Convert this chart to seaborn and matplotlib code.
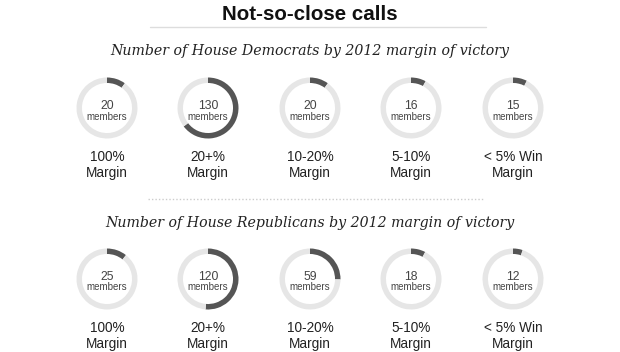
import matplotlib
matplotlib.use("Agg")
import matplotlib.pyplot as plt
import seaborn as sns
from matplotlib.lines import Line2D

sns.set_theme(style="white")
plt.rcParams["font.family"] = ["Liberation Sans", "DejaVu Sans"]

# data
margins = ["100%\nMargin", "20+%\nMargin", "10-20%\nMargin", "5-10%\nMargin", "< 5% Win\nMargin"]
dem_members = [20, 130, 20, 16, 15]
rep_members = [25, 120, 59, 18, 12]

W, H = 620, 352
RING = "#e6e6e6"
DARK = "#555555"

fig = plt.figure(figsize=(W / 100, H / 100), dpi=100)
fig.patch.set_facecolor("white")


def fx(px):
    return px / W


def fy(py):
    return 1 - py / H


fig.text(fx(310), fy(14), "Not-so-close calls", ha="center", va="center",
         fontsize=14.8, fontweight="bold", color="#111111")
fig.add_artist(Line2D([fx(150), fx(486)], [fy(27), fy(27)], color="#dddddd", lw=1))
fig.add_artist(Line2D([fx(148), fx(484)], [fy(199), fy(199)], color="#cccccc",
                      lw=1, linestyle=(0, (1, 1.5))))

centers_x = [107, 208, 310, 411, 513]
r = 30.5


def draw_row(values, title, title_y, cy):
    fig.text(fx(310), fy(title_y), title, ha="center", va="center",
             fontsize=10.2, fontstyle="italic", color="#222222",
             family=["DejaVu Serif"])
    total = sum(values)
    for cx, v, lab in zip(centers_x, values, margins):
        ax = fig.add_axes([fx(cx - r), fy(cy + r), fx(2 * r), (2 * r) / H])
        ax.pie([v, total - v], colors=[DARK, RING], startangle=90, counterclock=False,
               radius=1, wedgeprops=dict(width=0.18, edgecolor="none"))
        ax.set_xlim(-1, 1)
        ax.set_ylim(-1, 1)
        ax.set_aspect("equal")
        ax.axis("off")
        fig.text(fx(cx), fy(cy - 2), str(v), ha="center", va="center",
                 fontsize=8.8, color="#444444")
        fig.text(fx(cx), fy(cy + 8.5), "members", ha="center", va="center",
                 fontsize=7.0, color="#444444")
        fig.text(fx(cx), fy(cy + 57), lab, ha="center", va="center",
                 fontsize=9.8, color="#222222", linespacing=1.25)


draw_row(dem_members, "Number of House Democrats by 2012 margin of victory", 51, 108)
draw_row(rep_members, "Number of House Republicans by 2012 margin of victory", 223, 279)

fig.savefig("out.png", dpi=100, facecolor="white")
